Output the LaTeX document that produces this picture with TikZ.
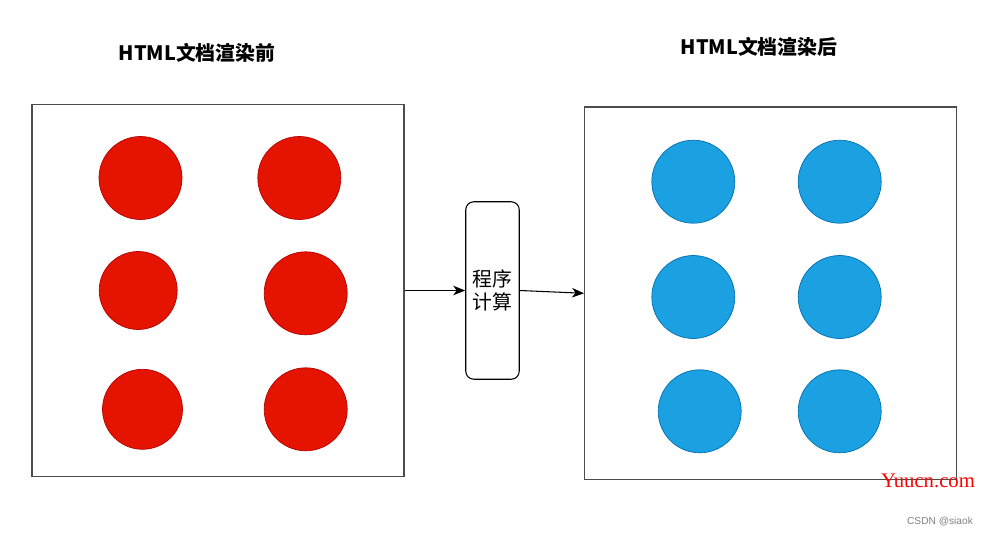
\documentclass[tikz,border=0pt]{standalone}
\usepackage{fontspec}
\newfontfamily\cjk{Noto Sans CJK SC}
\newfontfamily\markserif{Liberation Serif}
\newfontfamily\marksans{Liberation Sans}
\usetikzlibrary{positioning,arrows.meta}

\definecolor{dotred}{HTML}{E51400}
\definecolor{dotredline}{HTML}{B20000}
\definecolor{dotblue}{HTML}{1BA1E2}
\definecolor{dotblueline}{HTML}{006EAF}

\begin{document}
\begin{tikzpicture}[x=0.02cm, y=-0.02cm]
    \tikzset{
        panel/.style={draw=black!70, line width=0.8pt, inner sep=0pt,
            minimum width=7.44cm, minimum height=7.45cm},
        reddot/.style={circle, fill=dotred, draw=dotredline, line width=0.4pt,
            inner sep=0pt, minimum size=1.66cm},
        bluedot/.style={circle, fill=dotblue, draw=dotblueline, line width=0.4pt,
            inner sep=0pt, minimum size=1.66cm},
        titlestyle/.style={font=\cjk\bfseries\fontsize{11.3}{13}\selectfont},
        calcbox/.style={draw=black, line width=0.6pt, rounded corners=0.16cm,
            minimum width=1.07cm, minimum height=3.55cm, inner sep=0pt, align=center,
            font=\cjk\fontsize{11.3}{13.3}\selectfont},
        flow/.style={-{Stealth[length=0.24cm, width=0.19cm, inset=0.07cm]}, line width=0.6pt}
    }
    \useasboundingbox (0,0) rectangle (989,536);

    \node[titlestyle] (tbefore) at (197,53) {HTML文档渲染前};
    \node[titlestyle] (tafter) at (759,47) {HTML文档渲染后};

    \node[panel] (before) at (218,290.5) {};
    \node[reddot] (r1) at (140.5,178) {};
    \node[reddot] (r2) at (299.3,178) {};
    \node[reddot, minimum size=1.56cm] (r3) at (138.2,290.5) {};
    \node[reddot] (r4) at (305.7,293.3) {};
    \node[reddot, minimum size=1.6cm] (r5) at (142.5,409.3) {};
    \node[reddot] (r6) at (305.7,409.3) {};

    \node[calcbox] (calc) at (492.5,290.5) {程序\\计算};

    \node[panel] (after) at (770.7,293.3) {};
    \node[bluedot] (b1) at (693.3,181.7) {};
    \node[bluedot] (b2) at (839.7,181.7) {};
    \node[bluedot] (b3) at (693.3,297) {};
    \node[bluedot] (b4) at (839.7,297) {};
    \node[bluedot] (b5) at (699.7,411.3) {};
    \node[bluedot] (b6) at (839.7,411.3) {};

    \draw[flow] (before.east) -- (calc.west);
    \draw[flow] (calc.east) -- (after.west);

    \node[red, font=\markserif\fontsize{11.8}{13}\selectfont] (mark) at (928,481) {Yuucn.com};
    \node[gray, font=\marksans\fontsize{5.8}{7}\selectfont] (csdn) at (940,522) {CSDN @siaok};
\end{tikzpicture}
\end{document}
